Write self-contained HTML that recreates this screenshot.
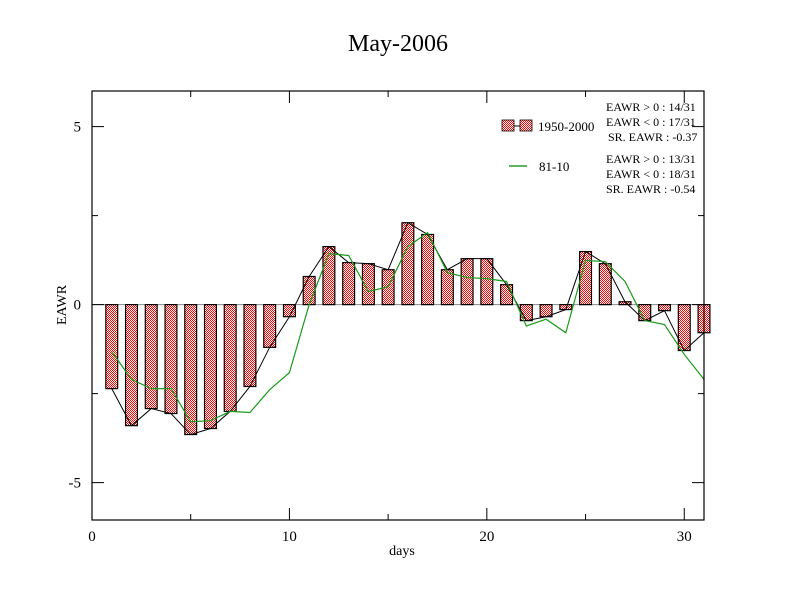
<!DOCTYPE html>
<html><head><meta charset="utf-8"><style>
html,body{margin:0;padding:0;background:#fff;}
svg{display:block;font-family:"Liberation Serif",serif;}
</style></head><body>
<svg id="chart" width="792" height="612" viewBox="0 0 792 612" xmlns="http://www.w3.org/2000/svg">
<defs>
<pattern id="chk" width="2" height="2" patternUnits="userSpaceOnUse">
<rect width="2" height="2" fill="#fff"/><rect width="1" height="1" fill="#f00"/><rect x="1" y="1" width="1" height="1" fill="#f00"/>
</pattern>
</defs>
<rect width="792" height="612" fill="#fff"/>
<text x="398" y="51" font-size="24" text-anchor="middle">May-2006</text>
<g id="plot"></g>
<rect x="92" y="91" width="612" height="429" fill="none" stroke="#000" stroke-width="1.2"/>
<text x="402" y="555" font-size="14" text-anchor="middle">days</text>
<text transform="translate(66,305) rotate(-90)" font-size="14" text-anchor="middle">EAWR</text>
<g>
<rect x="502" y="120" width="12" height="11" fill="url(#chk)" stroke="#000" stroke-width="0.8"/>
<line x1="514" y1="126" x2="520" y2="126" stroke="#000"/>
<rect x="520" y="120" width="12" height="11" fill="url(#chk)" stroke="#000" stroke-width="0.8"/>
<text x="538" y="131" font-size="13">1950-2000</text>
<line x1="509" y1="166" x2="527" y2="166" stroke="#080" stroke-width="1.2"/>
<text x="539" y="171" font-size="13">81-10</text>
<text x="606" y="111" font-size="12">EAWR &gt; 0 : 14/31</text>
<text x="606" y="126" font-size="12">EAWR &lt; 0 : 17/31</text>
<text x="608" y="141" font-size="12">SR. EAWR : -0.37</text>
<text x="606" y="163" font-size="12">EAWR &gt; 0 : 13/31</text>
<text x="606" y="178" font-size="12">EAWR &lt; 0 : 18/31</text>
<text x="606" y="193" font-size="12">SR. EAWR : -0.54</text>
</g>
</svg>
<script>
const days = [1,2,3,4,5,6,7,8,9,10,11,12,13,14,15,16,17,18,19,20,21,22,23,24,25,26,27,28,29,30,31];
const bars1950 = [-2.36,-3.4,-2.92,-3.06,-3.65,-3.48,-3.0,-2.3,-1.2,-0.34,0.79,1.63,1.18,1.15,0.98,2.3,1.97,0.98,1.29,1.29,0.56,-0.45,-0.34,-0.14,1.49,1.15,0.08,-0.45,-0.17,-1.29,-0.79];
const line8110 = [-1.32,-2.1,-2.36,-2.36,-3.29,-3.26,-3.0,-3.03,-2.39,-1.91,0.0,1.43,1.38,0.37,0.5,1.63,2.02,0.9,0.76,0.73,0.65,-0.6,-0.41,-0.79,1.24,1.21,0.65,-0.45,-0.56,-1.4,-2.1];
const xTicks = [0,10,20,30];
const xMinor = [5,15,25];
const yTicks = [-5,0,5];
const yMinor = [-2.5,2.5];

const X0=92,X1=704,Y0=520,Y1=91,xmin=0,xmax=31,ymin=-6.05,ymax=6.0;
const xs=v=>X0+(v-xmin)/(xmax-xmin)*(X1-X0);
const ys=v=>Y0-(v-ymin)/(ymax-ymin)*(Y0-Y1);
const NS="http://www.w3.org/2000/svg";
const g=document.getElementById('plot');
function mk(t,a){const e=document.createElementNS(NS,t);for(const k in a)e.setAttribute(k,a[k]);g.appendChild(e);return e;}

// zero line
const z=mk('line',{x1:X0,x2:X1,y1:ys(0),y2:ys(0),stroke:'#888','stroke-width':1});



const bw=(xs(1)-xs(0))*0.6;
days.forEach((d,i)=>{
  const v=bars1950[i];
  const y=Math.min(ys(v),ys(0)),h=Math.abs(ys(v)-ys(0));
  const r=mk('rect',{x:xs(d)-bw/2,y:y,width:bw,height:Math.max(h,0.5),fill:'url(#chk)',stroke:'#000','stroke-width':1.2});
  
  
});
const p1=mk('polyline',{points:days.map((d,i)=>xs(d)+','+ys(bars1950[i])).join(' '),fill:'none',stroke:'#000','stroke-width':1});


const p2=mk('polyline',{points:days.map((d,i)=>xs(d)+','+ys(line8110[i])).join(' '),fill:'none',stroke:'#1a9a1a','stroke-width':1.2});



function tick(x1,y1,x2,y2,name){const t=mk('line',{x1,y1,x2,y2,stroke:'#000','stroke-width':1});

}
xTicks.forEach(v=>{tick(xs(v),Y0,xs(v),Y0-12,'x-tick');tick(xs(v),Y1,xs(v),Y1+12,'x-tick-top');
  const t=mk('text',{x:xs(v),y:Y0+21,'font-size':15,'text-anchor':'middle'});t.textContent=v;
  
  });
xMinor.forEach(v=>{tick(xs(v),Y0,xs(v),Y0-6,'x-minor-tick');tick(xs(v),Y1,xs(v),Y1+6,'x-minor-tick-top');});
yTicks.forEach(v=>{tick(X0,ys(v),X0+12,ys(v),'y-tick');tick(X1,ys(v),X1-12,ys(v),'y-tick-right');
  const t=mk('text',{x:X0-11,y:ys(v)+5,'font-size':15,'text-anchor':'end'});t.textContent=v;
  
  });
yMinor.forEach(v=>{tick(X0,ys(v),X0+6,ys(v),'y-minor-tick');tick(X1,ys(v),X1-6,ys(v),'y-minor-tick-right');});
</script>
</body></html>
